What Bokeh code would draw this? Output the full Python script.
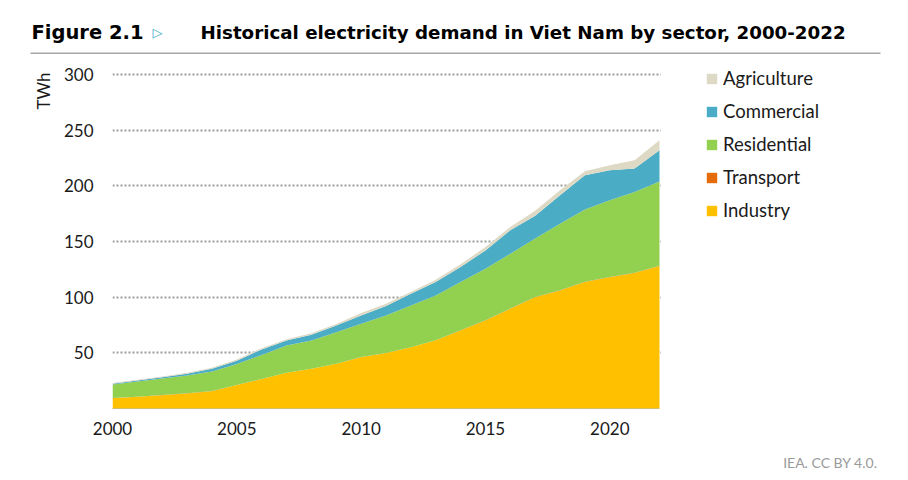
from bokeh.plotting import figure
from bokeh.layouts import column
from bokeh.models import (Range1d, FixedTicker, Legend, LegendItem, Label, Title,
                          BoxAnnotation, ColumnDataSource)
from bokeh.embed import file_html
from bokeh.resources import INLINE

# ---------------- data (TWh) ----------------
years = list(range(2000, 2023))
industry = [9.3, 10.5, 12.0, 13.5, 15.6, 21.0, 26.5, 32.0, 35.7, 40.2, 46.1, 49.8,
            55.0, 61.2, 70.1, 79.1, 89.6, 100.0, 106.0, 113.6, 118.0, 121.7, 128.0]
transport = [0.1, 0.1, 0.1, 0.1, 0.1, 0.1, 0.1, 0.1, 0.1, 0.1, 0.1, 0.1,
             0.1, 0.1, 0.1, 0.1, 0.2, 0.2, 0.2, 0.2, 0.2, 0.2, 0.3]
residential = [12.2, 13.7, 14.9, 16.1, 17.6, 18.9, 21.4, 24.5, 25.2, 28.3, 29.9, 33.7,
               37.5, 40.3, 43.4, 46.4, 49.2, 52.4, 59.8, 64.9, 68.8, 72.6, 75.7]
commercial = [0.6, 0.9, 1.0, 1.5, 2.4, 3.0, 5.1, 4.4, 5.2, 6.0, 7.5, 8.4,
              10.4, 12.0, 13.4, 16.4, 21.0, 20.5, 25.5, 30.8, 27.0, 21.0, 28.0]
agriculture = [0.6, 0.6, 0.8, 0.8, 1.0, 1.0, 1.0, 1.3, 1.5, 1.4, 2.1, 2.0,
               1.6, 2.1, 2.5, 3.0, 3.0, 4.5, 4.5, 3.5, 4.5, 7.5, 9.0]

sectors = ["Industry", "Transport", "Residential", "Commercial", "Agriculture"]
colors = ["#FFC000", "#E46C0A", "#92D050", "#4BACC6", "#DDD9C4"]
legend_order = ["Agriculture", "Commercial", "Residential", "Transport", "Industry"]
x_ticks = [2000, 2005, 2010, 2015, 2020]
y_ticks = [50, 100, 150, 200, 250, 300]

title_fig = "Figure 2.1"
title_main = "Historical electricity demand in Viet Nam by sector, 2000-2022"
y_label = "TWh"
credit = "IEA. CC BY 4.0."

# ---------------- layout geometry (pixels) ----------------
W = 896
HEAD_H = 60          # header strip
BODY_H = 388         # chart strip
FOOT_H = 28          # credit strip
FRAME_L, FRAME_T, FRAME_B = 112, 62, 408   # page coords of plot frame
PX_PER_YEAR = 547 / 22.0
PX_PER_TWH = 334 / 300.0


def blank(height):
    f = figure(width=W, height=height, output_backend="svg", toolbar_location=None,
               x_range=Range1d(0, W), y_range=Range1d(height, 0),
               x_axis_location=None, y_axis_location=None,
               min_border_left=0, min_border_right=0, min_border_top=0,
               min_border_bottom=0)
    f.frame_align = False
    f.outline_line_color = None
    f.grid.visible = False
    return f


# ---------------- header ----------------
head = blank(HEAD_H)
head.add_layout(Label(x=31, y=32.3, text=title_fig, text_font="DejaVu Sans",
                      text_font_style="bold", text_font_size="19.5px",
                      text_color="#000000", text_baseline="alphabetic"))
head.add_layout(Label(x=152, y=31.5, text="\u25B7", text_font="DejaVu Sans",
                      text_font_style="bold", text_font_size="13px",
                      text_color="#3AA7C7", text_baseline="alphabetic"))
head.add_layout(Label(x=200, y=32.3, text=title_main, text_font="DejaVu Sans",
                      text_font_style="bold", text_font_size="18.25px",
                      text_color="#000000", text_baseline="alphabetic"))
head.segment(x0=[30], y0=[52.7], x1=[880], y1=[52.7], line_color="#A6A6A6", line_width=1.5)

# ---------------- chart ----------------
x_end = 2000 + (W - FRAME_L) / PX_PER_YEAR
y_end = (FRAME_B - FRAME_T) / PX_PER_TWH
p = figure(width=W, height=BODY_H, output_backend="svg", toolbar_location=None,
           x_range=Range1d(2000, x_end), y_range=Range1d(0, y_end),
           min_border_left=FRAME_L, min_border_right=0,
           min_border_top=FRAME_T - HEAD_H,
           min_border_bottom=HEAD_H + BODY_H - FRAME_B)
p.frame_align = False
p.outline_line_color = None

src = ColumnDataSource(dict(year=years, Industry=industry, Transport=transport,
                            Residential=residential, Commercial=commercial,
                            Agriculture=agriculture))
rends = p.varea_stack(stackers=sectors, x="year", color=colors, source=src)
rmap = dict(zip(sectors, rends))

p.xaxis.ticker = FixedTicker(ticks=x_ticks)
p.yaxis.ticker = FixedTicker(ticks=y_ticks)
for ax in (p.xaxis[0], p.yaxis[0]):
    ax.major_tick_line_color = None
    ax.minor_tick_line_color = None
    ax.major_tick_out = 0
    ax.major_tick_in = 0
    ax.minor_tick_out = 0
    ax.minor_tick_in = 0
    ax.major_label_text_font = "Lato"
    ax.major_label_text_font_size = "17px"
    ax.major_label_text_color = "#1a1a1a"
p.xaxis.axis_line_color = "#D6BC6E"
p.xaxis.bounds = (years[0], years[-1])
p.xaxis.major_label_standoff = 13
p.yaxis.axis_line_color = None
p.yaxis.major_label_standoff = 19

p.xgrid.grid_line_color = None
p.ygrid.grid_line_color = "#9C9C9C"
p.ygrid.grid_line_width = 2
p.ygrid.grid_line_dash = "2 2"
# stop the grid lines just after the last year (legend area stays clean)
p.add_layout(BoxAnnotation(left=years[-1] + 0.06, fill_color="white", fill_alpha=1,
                           line_color=None, level="underlay"))

items = [LegendItem(label=s, renderers=[rmap[s]]) for s in legend_order]
legend = Legend(items=items, location=(705 - FRAME_L, 186.7), padding=0, margin=0,
                glyph_width=13, glyph_height=13, label_standoff=5, spacing=11,
                label_height=22, label_text_font="Lato", label_text_font_size="18.5px",
                label_text_color="#1a1a1a", border_line_color=None,
                background_fill_alpha=0)
p.add_layout(legend, "center")

# y-axis unit at the top left
p.add_layout(Title(text=y_label, align="right", text_font="Lato", text_font_size="17px",
                   text_font_style="normal", text_color="#1a1a1a", standoff=14,
                   offset=10), "left")

# ---------------- footer ----------------
foot = blank(FOOT_H)
foot.add_layout(Label(x=877, y=14, text=credit, text_font="Lato",
                      text_font_size="14px", text_color="#9A9A9A", text_align="right",
                      text_baseline="middle"))

layout = column(head, p, foot, spacing=0)
open("out.html", "w").write(file_html(layout, INLINE))
